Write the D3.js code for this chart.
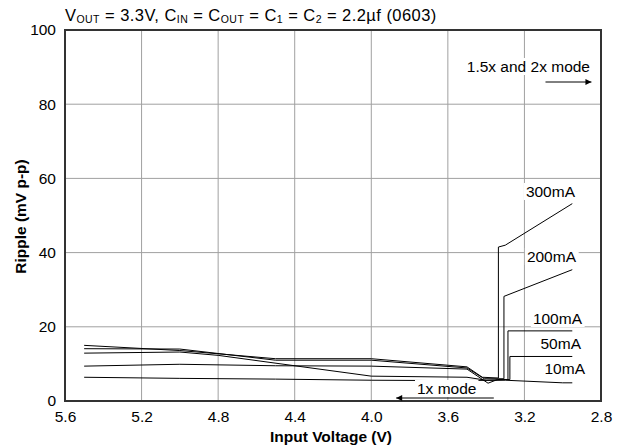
<!DOCTYPE html>
<html>
<head>
<meta charset="utf-8">
<script src="https://cdn.jsdelivr.net/npm/d3@7"></script>
<style>
  body { margin: 0; background: #fff; }
  text { font-family: "Liberation Sans", Arial, sans-serif; }
</style>
</head>
<body>
<div id="chart"></div>
<script>
// input voltage ticks (V) and ripple ticks (mV p-p)
const xTicks = [5.6, 5.2, 4.8, 4.4, 4.0, 3.6, 3.2, 2.8];
const yTicks = [0, 20, 40, 60, 80, 100];

// [Vin, ripple] points for each load current
const ripple300mA = [[5.5, 15.0], [5.0, 13.6], [4.5, 11.4], [4.0, 11.4], [3.5, 9.2], [3.42, 6.4], [3.336, 6.2], [3.336, 41.5], [3.30, 42.0], [2.95, 53.2]];
const ripple200mA = [[5.5, 14.1], [5.0, 14.0], [4.5, 11.0], [4.0, 11.0], [3.5, 8.9], [3.41, 6.0], [3.307, 6.0], [3.307, 28.2], [2.95, 35.4]];
const ripple100mA = [[5.5, 12.9], [5.0, 13.2], [4.8, 12.3], [4.0, 6.7], [3.5, 6.4], [3.4, 5.6], [3.286, 5.8], [3.286, 18.9], [2.95, 18.9]];
const ripple50mA = [[5.5, 9.4], [5.0, 9.9], [4.5, 9.5], [4.0, 9.4], [3.5, 8.6], [3.39, 4.8], [3.34, 5.8], [3.276, 5.8], [3.276, 12.0], [2.95, 12.0]];
const ripple10mA = [[5.5, 6.4], [5.0, 6.1], [4.5, 5.9], [4.0, 5.6], [3.6, 5.5], [3.3, 5.6], [3.0, 4.9], [2.95, 4.9]];
const seriesNames = ['300mA', '200mA', '100mA', '50mA', '10mA'];
const allSeries = [ripple300mA, ripple200mA, ripple100mA, ripple50mA, ripple10mA];

const width = 626, height = 446;
const margin = { top: 30, right: 25, bottom: 45, left: 65 };

const svg = d3.select('#chart').append('svg')
  .attr('width', width)
  .attr('height', height);

const x = d3.scaleLinear().domain([5.6, 2.8]).range([margin.left, width - margin.right]);
const y = d3.scaleLinear().domain([0, 100]).range([height - margin.bottom, margin.top]);

// grid
svg.append('g')
  .selectAll('line')
  .data(xTicks.slice(1, -1))
  .join('line')
  .attr('x1', d => x(d)).attr('x2', d => x(d))
  .attr('y1', y(0)).attr('y2', y(100))
  .attr('stroke', '#a0a0a0').attr('stroke-width', 1);
svg.append('g')
  .selectAll('line')
  .data(yTicks.slice(1, -1))
  .join('line')
  .attr('x1', x(5.6)).attr('x2', x(2.8))
  .attr('y1', d => y(d)).attr('y2', d => y(d))
  .attr('stroke', '#a0a0a0').attr('stroke-width', 1);

// data lines
const line = d3.line().x(d => x(d[0])).y(d => y(d[1]));
svg.append('g')
  .selectAll('path')
  .data(allSeries)
  .join('path')
  .attr('d', line)
  .attr('fill', 'none')
  .attr('stroke', '#000')
  .attr('stroke-width', 1);

// frame
svg.append('rect')
  .attr('x', x(5.6)).attr('y', y(100))
  .attr('width', x(2.8) - x(5.6)).attr('height', y(0) - y(100))
  .attr('fill', 'none').attr('stroke', '#333').attr('stroke-width', 2);

// axes
const xAxis = svg.append('g')
  .attr('transform', 'translate(0,' + y(0) + ')')
  .call(d3.axisBottom(x).tickValues(xTicks).tickSize(0).tickPadding(10).tickFormat(d3.format('.1f')));
const yAxis = svg.append('g')
  .attr('transform', 'translate(' + x(5.6) + ',0)')
  .call(d3.axisLeft(y).tickValues(yTicks).tickSize(0).tickPadding(9));
[xAxis, yAxis].forEach(a => {
  a.select('.domain').remove();
  a.selectAll('text').attr('font-size', 15.5).attr('fill', '#000')
    .attr('font-family', '"Liberation Sans", Arial, sans-serif');
});

// axis titles
svg.append('text')
  .attr('x', (x(5.6) + x(2.8)) / 2 - 2).attr('y', 442)
  .attr('text-anchor', 'middle').attr('font-size', 15.5).attr('font-weight', 'bold')
  .text('Input Voltage (V)');
svg.append('text')
  .attr('transform', 'translate(26,' + (y(50) + 1) + ') rotate(-90)')
  .attr('text-anchor', 'middle').attr('font-size', 15.5).attr('font-weight', 'bold')
  .text('Ripple (mV p-p)');

// title with subscripts
const title = svg.append('text').attr('x', 65).attr('y', 21)
  .attr('font-size', 16.5).attr('letter-spacing', 0.45);
const parts = [['V', ''], ['OUT', 'sub'], [' = 3.3V, C', ''], ['IN', 'sub'], [' = C', ''], ['OUT', 'sub'],
  [' = C', ''], ['1', 'sub'], [' = C', ''], ['2', 'sub'], [' = 2.2\u00b5f (0603)', '']];
let shifted = false;
parts.forEach(p => {
  const t = title.append('tspan').text(p[0]);
  if (p[1] === 'sub') {
    t.attr('font-size', 10.5).attr('dy', shifted ? 0 : 2);
    shifted = true;
  } else if (shifted) {
    t.attr('dy', -2);
    shifted = false;
  }
});

// labels with white background
const addLabel = (text, lx, ly, anchor) => {
  const g = svg.append('g');
  const t = g.append('text').attr('x', lx).attr('y', ly).attr('font-size', 15.5)
    .attr('text-anchor', anchor || 'end').text(text);
  const b = t.node().getBBox();
  g.insert('rect', 'text')
    .attr('x', b.x - 2).attr('y', b.y).attr('width', b.width + 4).attr('height', b.height)
    .attr('fill', '#fff');
  return g;
};
addLabel('300mA', 575, 197);
addLabel('200mA', 576, 262);
addLabel('100mA', 582, 324);
addLabel('50mA', 581, 349);
addLabel('10mA', 585, 374);
addLabel('1.5x and 2x mode', 590, 72);
addLabel('1x mode', 417, 394, 'start');

// mode arrows
svg.append('defs').append('marker')
  .attr('id', 'arrow').attr('viewBox', '0 0 10 10').attr('refX', 10).attr('refY', 5)
  .attr('markerWidth', 8).attr('markerHeight', 6).attr('markerUnits', 'userSpaceOnUse')
  .attr('orient', 'auto')
  .append('path').attr('d', 'M0,0L10,5L0,10Z').attr('fill', '#000');
svg.append('line')
  .attr('x1', x(3.09)).attr('x2', x(2.85)).attr('y1', 82).attr('y2', 82)
  .attr('stroke', '#000').attr('stroke-width', 1).attr('marker-end', 'url(#arrow)');
svg.append('line')
  .attr('x1', x(3.36)).attr('x2', x(3.87)).attr('y1', 398).attr('y2', 398)
  .attr('stroke', '#000').attr('stroke-width', 1).attr('marker-end', 'url(#arrow)');
</script>
</body>
</html>
